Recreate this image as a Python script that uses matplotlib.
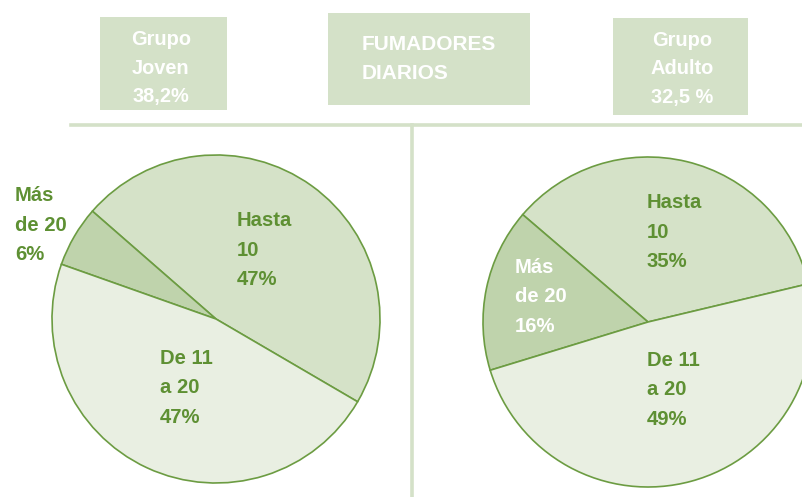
import matplotlib
matplotlib.use("Agg")
import matplotlib.pyplot as plt
from matplotlib.patches import Rectangle
from matplotlib.lines import Line2D

plt.rcParams["font.family"] = ["Liberation Sans", "DejaVu Sans"]

W, H = 803, 497

# data
categories = ["Hasta\n10", "Más\nde 20", "De 11\na 20"]
joven_pct = [47, 6, 47]
adulto_pct = [35, 16, 49]
header_texts = ["Grupo\nJoven\n38,2%", "FUMADORES\nDIARIOS", "Grupo\nAdulto\n32,5 %"]

FILL = ["#d5e2c8", "#bfd3ac", "#e9efe2"]
EDGE = "#6c9c42"
TXT = "#5e9033"
BOX = "#d4e1c8"


def px_rect(x0, y0, x1, y1):
    # pixel box (top-left origin) -> figure fraction rect
    return [x0 / W, 1 - y1 / H, (x1 - x0) / W, (y1 - y0) / H]


def draw_pie(fig, cx, cy, r, values, start, label_pos, label_colors):
    ax = fig.add_axes(px_rect(cx - r, cy - r, cx + r, cy + r))
    ax.pie(values, colors=FILL, startangle=start, counterclock=True,
           wedgeprops=dict(edgecolor=EDGE, linewidth=1.2))
    ax.set_xlim(-1, 1)
    ax.set_ylim(-1, 1)
    ax.set_aspect("equal")
    ax.axis("off")
    for cat, v, (lx, ly), col in zip(categories, values, label_pos, label_colors):
        ax.text(lx, ly, f"{cat}\n{v}%", ha="left", va="center", color=col,
                fontsize=14.6, fontweight="bold", linespacing=1.72, clip_on=False)
    return ax


fig = plt.figure(figsize=(W / 100, H / 100), dpi=100)
fig.patch.set_facecolor("white")

# header boxes
boxes = [(100, 17, 227, 110), (328, 13, 530, 105), (613, 18, 748, 115)]
for (x0, y0, x1, y1) in boxes:
    fig.add_artist(Rectangle((x0 / W, 1 - y1 / H), (x1 - x0) / W, (y1 - y0) / H,
                             transform=fig.transFigure, facecolor=BOX, edgecolor="none"))

fig.text(161 / W, 1 - 68 / H, header_texts[0], ha="center", va="center", color="white",
         fontsize=14.4, fontweight="bold", linespacing=1.62)
fig.text(362 / W, 1 - 59 / H, header_texts[1], ha="left", va="center", color="white",
         fontsize=15, fontweight="bold", linespacing=1.62)
fig.text(682 / W, 1 - 69 / H, header_texts[2], ha="center", va="center", color="white",
         fontsize=14.4, fontweight="bold", linespacing=1.62)

# divider lines
fig.add_artist(Line2D([71 / W, 1.0], [1 - 125 / H] * 2, transform=fig.transFigure,
                      color=BOX, linewidth=2.6))
fig.add_artist(Line2D([412 / W] * 2, [1 - 125 / H, 0], transform=fig.transFigure,
                      color=BOX, linewidth=2.6))

draw_pie(fig, 216, 319, 164, joven_pct, -30.3,
         [(0.128, 0.42), (-1.226, 0.573), (-0.341, -0.42)],
         [TXT, TXT, TXT])
draw_pie(fig, 648, 322, 165, adulto_pct, 13.4,
         [(-0.006, 0.545), (-0.806, 0.152), (-0.006, -0.412)],
         [TXT, "white", TXT])

fig.savefig("out.png", dpi=100)
